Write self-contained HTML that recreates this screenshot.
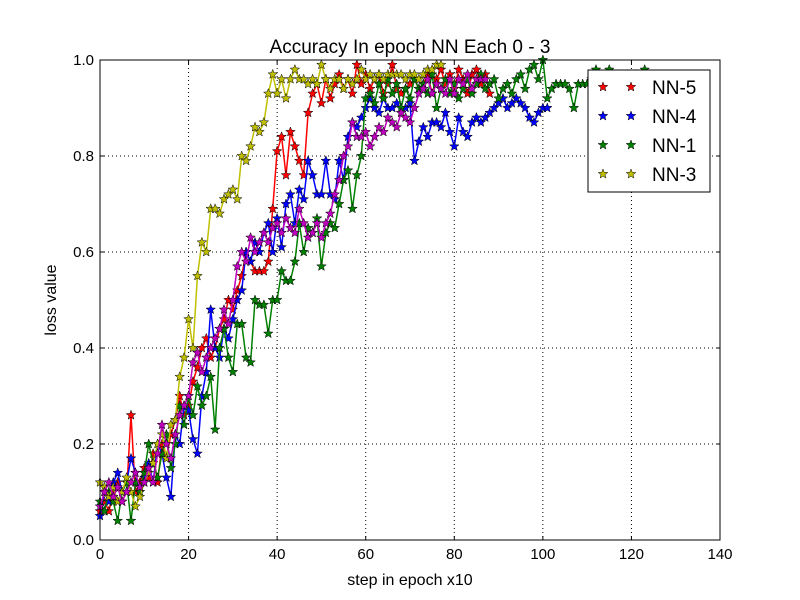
<!DOCTYPE html>
<html><head><meta charset="utf-8"><style>
html,body{margin:0;padding:0;background:#fff;}
svg{display:block;font-family:"Liberation Sans","DejaVu Sans",sans-serif;}
</style></head><body>
<svg id="chart" width="800" height="600" viewBox="0 0 800 600" xmlns="http://www.w3.org/2000/svg">
<rect x="0" y="0" width="800" height="600" fill="#fff"/>
<g id="grid"></g>
<g id="series"></g>
<rect x="100" y="60" width="620" height="480" fill="none" stroke="#000" stroke-width="1"/>
<g id="ticks"></g>
<text x="410" y="53" text-anchor="middle" font-size="19">Accuracy In epoch NN Each 0 - 3</text>
<text x="410" y="585" text-anchor="middle" font-size="16">step in epoch x10</text>
<text x="56" y="300" text-anchor="middle" font-size="16" transform="rotate(-90 56 300)">loss value</text>
<g id="legend"></g>
</svg>
<script>
const xTicks=[0,20,40,60,80,100,120,140];
const yTicks=[0.0,0.2,0.4,0.6,0.8,1.0];
const yTickLabels=["0.0","0.2","0.4","0.6","0.8","1.0"];
const seriesNames=["NN-5","NN-4","NN-1","NN-3","NN-2"];
const seriesColors=["#ff0000","#0000ff","#008000","#bfbf00","#bf00bf"];
const red=[0.06,0.08,0.06,0.1,0.12,0.08,0.1,0.26,0.1,0.12,0.15,0.13,0.18,0.12,0.2,0.17,0.22,0.25,0.3,0.26,0.28,0.33,0.36,0.4,0.42,0.38,0.4,0.44,0.46,0.5,0.48,0.52,0.55,0.6,0.58,0.56,0.56,0.56,0.58,0.69,0.81,0.84,0.76,0.85,0.82,0.79,0.76,0.89,0.93,0.95,0.91,0.96,0.92,0.95,0.97,0.94,0.96,0.93,0.99,0.95,0.97,0.94,0.96,0.97,0.93,0.95,0.99,0.94,0.93,0.94,0.95,0.96,0.94,0.95,0.97,0.93,0.96,0.98,0.95,0.97,0.94,0.98,0.96,0.93,0.97,0.98,0.95,0.97,0.93];
const blue=[0.05,0.1,0.08,0.12,0.14,0.1,0.12,0.17,0.14,0.1,0.13,0.16,0.12,0.2,0.18,0.13,0.09,0.22,0.2,0.28,0.27,0.21,0.18,0.3,0.35,0.48,0.4,0.38,0.44,0.42,0.46,0.5,0.52,0.6,0.58,0.62,0.6,0.64,0.66,0.6,0.67,0.61,0.7,0.72,0.66,0.73,0.71,0.79,0.76,0.72,0.72,0.79,0.72,0.71,0.79,0.75,0.84,0.87,0.86,0.88,0.9,0.92,0.9,0.89,0.92,0.9,0.9,0.91,0.89,0.9,0.91,0.79,0.83,0.86,0.84,0.87,0.87,0.86,0.89,0.85,0.82,0.88,0.85,0.84,0.87,0.88,0.87,0.88,0.89,0.9,0.91,0.92,0.9,0.91,0.92,0.91,0.9,0.88,0.87,0.89,0.9,0.9];
const green=[0.08,0.06,0.1,0.08,0.04,0.1,0.12,0.04,0.12,0.1,0.14,0.2,0.16,0.13,0.18,0.22,0.15,0.2,0.28,0.24,0.3,0.26,0.32,0.28,0.3,0.34,0.23,0.4,0.44,0.38,0.35,0.45,0.45,0.38,0.37,0.5,0.49,0.49,0.43,0.5,0.5,0.56,0.54,0.54,0.58,0.66,0.6,0.65,0.64,0.67,0.57,0.64,0.66,0.65,0.7,0.75,0.77,0.69,0.76,0.8,0.92,0.93,0.91,0.95,0.92,0.96,0.93,0.95,0.9,0.94,0.92,0.96,0.94,0.95,0.93,0.97,0.9,0.94,0.96,0.93,0.95,0.92,0.94,0.96,0.93,0.95,0.97,0.94,0.95,0.96,0.92,0.94,0.95,0.93,0.96,0.97,0.94,0.98,0.99,0.96,1.0,0.92,0.94,0.95,0.95,0.95,0.94,0.9,0.95,0.95,0.95,0.96,0.98,0.95,0.94,0.98,0.97,0.96,0.95,0.97,0.96,0.97,0.96,0.98];
const yellow=[0.12,0.11,0.09,0.11,0.08,0.1,0.13,0.1,0.07,0.09,0.12,0.14,0.16,0.2,0.22,0.17,0.24,0.25,0.34,0.38,0.46,0.4,0.55,0.62,0.6,0.69,0.69,0.68,0.71,0.72,0.73,0.71,0.8,0.79,0.82,0.86,0.85,0.87,0.93,0.97,0.93,0.96,0.92,0.96,0.98,0.96,0.96,0.95,0.96,0.95,0.99,0.96,0.94,0.96,0.96,0.94,0.96,0.95,0.96,0.98,0.96,0.97,0.96,0.97,0.96,0.97,0.97,0.97,0.97,0.96,0.97,0.97,0.96,0.97,0.98,0.98,0.99,0.99];
const magenta=[0.07,0.1,0.12,0.09,0.11,0.08,0.1,0.12,0.14,0.11,0.12,0.15,0.12,0.18,0.24,0.2,0.17,0.22,0.26,0.28,0.3,0.37,0.39,0.35,0.38,0.4,0.42,0.44,0.48,0.45,0.5,0.57,0.6,0.58,0.63,0.6,0.62,0.64,0.62,0.65,0.66,0.64,0.67,0.65,0.64,0.69,0.66,0.63,0.64,0.66,0.63,0.66,0.68,0.72,0.75,0.8,0.82,0.87,0.84,0.84,0.85,0.82,0.84,0.86,0.85,0.88,0.87,0.86,0.89,0.88,0.87,0.9,0.93,0.94,0.96,0.93,0.95,0.94,0.93,0.96,0.93,0.96,0.95,0.97,0.94,0.96,0.96,0.96];
const seriesData=[red,blue,green,yellow,magenta];

const NS="http://www.w3.org/2000/svg";
const X0=100,X1=720,Y0=540,Y1=60,XMAX=140;
function xs(v){return X0+v*(X1-X0)/XMAX;}
function ys(v){return Y0-v*(Y0-Y1);}
function mk(tag,attrs,parent){const e=document.createElementNS(NS,tag);for(const k in attrs)e.setAttribute(k,attrs[k]);parent.appendChild(e);return e;}
function starPts(cx,cy,r){let p=[];for(let i=0;i<10;i++){const a=-Math.PI/2+i*Math.PI/5;const rr=i%2?r*0.42:r;p.push((cx+rr*Math.cos(a)).toFixed(1)+","+(cy+rr*Math.sin(a)).toFixed(1));}return p.join(" ");}

const grid=document.getElementById('grid'),ticks=document.getElementById('ticks');
xTicks.forEach(t=>{const x=xs(t);
 if(t>0&&t<XMAX){const l=mk('line',{x1:x,x2:x,y1:Y1,y2:Y0,stroke:'#000','stroke-dasharray':'1,3','stroke-width':1},grid);}
 mk('line',{x1:x,x2:x,y1:Y0,y2:Y0-4,stroke:'#000'},ticks);mk('line',{x1:x,x2:x,y1:Y1,y2:Y1+4,stroke:'#000'},ticks);
 const tx=mk('text',{x:x,y:Y0+19,'text-anchor':'middle','font-size':15},ticks);tx.textContent=t;
 });
yTicks.forEach((t,i)=>{const y=ys(t);
 if(t>0&&t<1){const l=mk('line',{x1:X0,x2:X1,y1:y,y2:y,stroke:'#000','stroke-dasharray':'1,3','stroke-width':1},grid);}
 mk('line',{x1:X0,x2:X0+4,y1:y,y2:y,stroke:'#000'},ticks);mk('line',{x1:X1,x2:X1-4,y1:y,y2:y,stroke:'#000'},ticks);
 const tx=mk('text',{x:X0-6,y:y+5,'text-anchor':'end','font-size':15},ticks);tx.textContent=yTickLabels[i];
 });

const sg=document.getElementById('series');
seriesData.forEach((d,si)=>{const g=mk('g',{},sg);
 
 
 const pts=d.map((v,i)=>xs(i).toFixed(1)+","+ys(v).toFixed(1)).join(" ");
 mk('polyline',{points:pts,fill:'none',stroke:seriesColors[si],'stroke-width':1.5},g);
 d.forEach((v,i)=>{const s=mk('polygon',{points:starPts(xs(i),ys(v),5),fill:seriesColors[si],stroke:'#000','stroke-width':0.5},g);
  });});

const lg=document.getElementById('legend');
mk('rect',{x:588,y:70,width:122,height:122,fill:'#fff',stroke:'#000'},lg);
[0,1,2,3].forEach(i=>{const y=87+i*29;
 const e=mk('g',{},lg);
 mk('polygon',{points:starPts(603,y,5),fill:seriesColors[i],stroke:'#000','stroke-width':0.5},e);
 mk('polygon',{points:starPts(631,y,5),fill:seriesColors[i],stroke:'#000','stroke-width':0.5},e);
 const t=mk('text',{x:652,y:y+7,'font-size':19},e);t.textContent=seriesNames[i];});
</script>
</body></html>
